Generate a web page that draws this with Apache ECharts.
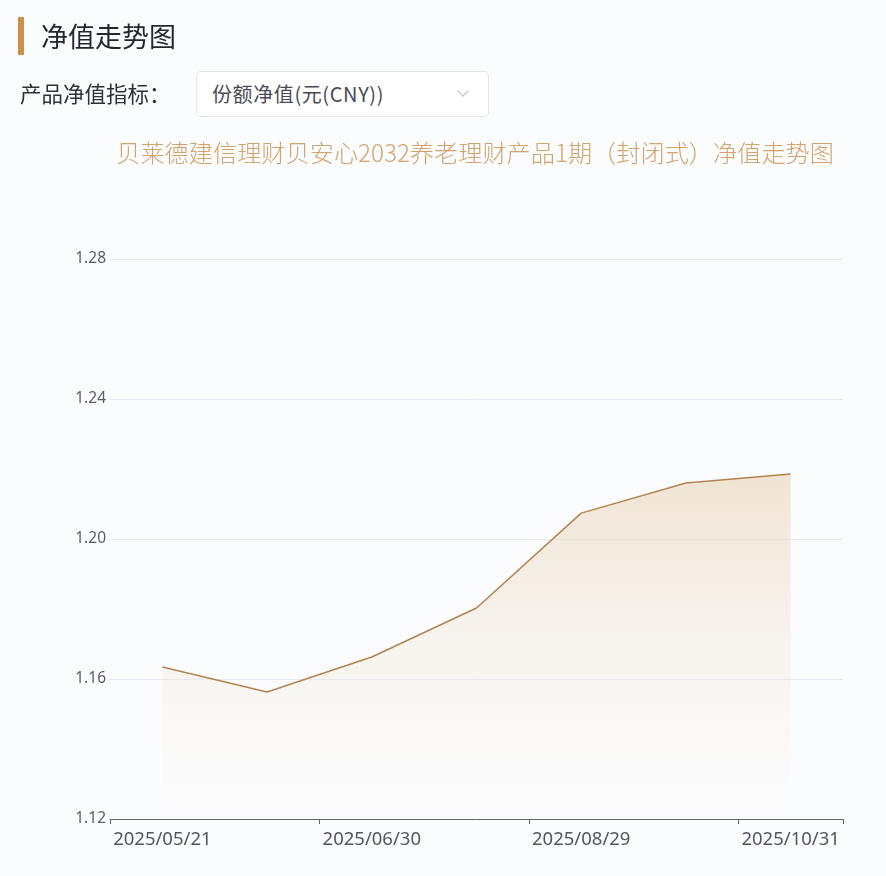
<!DOCTYPE html>
<html>
<head>
<meta charset="utf-8">
<script src="https://cdn.jsdelivr.net/npm/echarts@6/dist/echarts.min.js"></script>
<style>
  html, body { margin: 0; padding: 0; background: #fbfcfe; font-family: "Noto Sans CJK SC", "Noto Sans", sans-serif; }
  #page { position: relative; width: 886px; height: 876px; overflow: hidden; }
  #bar { position: absolute; left: 18px; top: 17px; width: 6px; height: 38px; background: #cf8f4c; border-radius: 1px; }
  #head { position: absolute; left: 41px; top: 17px; font-size: 27px; line-height: 38px; color: #26262e; }
  #lbl { position: absolute; left: 20px; top: 78px; font-size: 21.5px; line-height: 30px; color: #303038; }
  #sel { position: absolute; left: 196px; top: 71px; width: 293px; height: 46px; background: #fff; border: 1px solid #e3e4ea; border-radius: 5px; box-sizing: border-box; }
  #seltxt { position: absolute; left: 15px; top: 8px; font-size: 20px; line-height: 28px; color: #4a4a55; letter-spacing: 0.6px; }
  #chev { position: absolute; left: 262px; top: 15px; width: 7px; height: 7px; border-right: 1px solid #b8bac4; border-bottom: 1px solid #b8bac4; transform: rotate(45deg); }
  #chart { position: absolute; left: 0; top: 0; width: 886px; height: 876px; }
</style>
</head>
<body>
<div id="page">
  <div id="chart"></div>
  <div id="bar"></div>
  <div id="head">净值走势图</div>
  <div id="lbl">产品净值指标：</div>
  <div id="sel"><div id="seltxt">份额净值(元(CNY))</div><div id="chev"></div></div>
</div>
<script>
const chartTitle = "贝莱德建信理财贝安心2032养老理财产品1期（封闭式）净值走势图";
const dates = ["2025/05/21", "2025/06/10", "2025/06/30", "2025/07/31", "2025/08/29", "2025/09/30", "2025/10/31"];
const navValues = [1.1634, 1.1563, 1.1663, 1.1803, 1.2074, 1.2160, 1.2186];
const yTicks = { min: 1.12, max: 1.28, interval: 0.04 };

const chart = echarts.init(document.getElementById('chart'), null, { renderer: 'canvas' });
chart.setOption({
  backgroundColor: 'transparent',
  animation: false,
  title: {
    text: chartTitle,
    right: 47,
    top: 136,
    textStyle: { color: '#d4a36c', fontSize: 24.2, fontWeight: 300, fontFamily: 'Noto Sans CJK SC' }
  },
  grid: { left: 110, right: 43, top: 259, bottom: 57 },
  xAxis: {
    type: 'category',
    data: dates,
    boundaryGap: true,
    axisLine: { show: true, lineStyle: { color: '#666670', width: 1 } },
    axisTick: { show: true, interval: 1, length: 5, lineStyle: { color: '#666670', width: 1 } },
    axisLabel: { interval: 1, color: '#55555f', fontSize: 18.5, margin: 11, fontFamily: 'Noto Sans' }
  },
  yAxis: {
    type: 'value',
    min: yTicks.min,
    max: yTicks.max,
    interval: yTicks.interval,
    axisLine: { show: false },
    axisTick: { show: false },
    axisLabel: { color: '#5c5c6a', fontSize: 15.5, margin: 4, fontFamily: 'Noto Sans', formatter: v => v.toFixed(2) },
    splitLine: { lineStyle: { color: '#e4e9f3', width: 1 } }
  },
  series: [{
    type: 'line',
    data: navValues,
    showSymbol: false,
    symbol: 'none',
    lineStyle: { color: '#b3834f', width: 1.5 },
    areaStyle: {
      origin: 'start',
      color: new echarts.graphic.LinearGradient(0, 0, 0, 1, [
        { offset: 0, color: 'rgba(226,196,156,0.62)' },
        { offset: 1, color: 'rgba(255,255,255,0.3)' }
      ])
    }
  }]
});
</script>
</body>
</html>
